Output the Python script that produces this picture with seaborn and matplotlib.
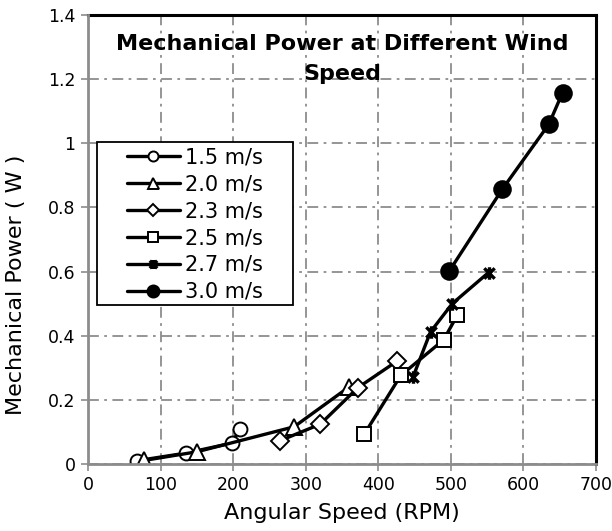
#!/usr/bin/env python3

import numpy as np
import pandas as pd
import matplotlib
matplotlib.use("Agg")
import matplotlib.pyplot as plt
from matplotlib.path import Path
from matplotlib.patches import Rectangle
from matplotlib.ticker import FuncFormatter, MultipleLocator
import seaborn as sns

# -----------------------------------------------------------------------------
# Data
# -----------------------------------------------------------------------------

labels = ["1.5 m/s", "2.0 m/s", "2.3 m/s", "2.5 m/s", "2.7 m/s", "3.0 m/s"]

rpm_15 = [67, 135, 198, 209]
pw_15 = [0.010, 0.034, 0.065, 0.108]

rpm_20 = [77, 150, 284, 359]
pw_20 = [0.011, 0.038, 0.116, 0.239]

rpm_23 = [265, 320, 372, 426]
pw_23 = [0.073, 0.124, 0.238, 0.321]

rpm_25 = [381, 431, 490, 509]
pw_25 = [0.094, 0.276, 0.387, 0.464]

rpm_27 = [448, 472, 502, 552]
pw_27 = [0.272, 0.412, 0.500, 0.597]

rpm_30 = [498, 571, 635, 654]
pw_30 = [0.602, 0.857, 1.059, 1.158]

rpms = [rpm_15, rpm_20, rpm_23, rpm_25, rpm_27, rpm_30]
powers = [pw_15, pw_20, pw_23, pw_25, pw_27, pw_30]

df = pd.concat(
    [pd.DataFrame({"rpm": r, "power": p, "speed": lab}) for r, p, lab in zip(rpms, powers, labels)],
    ignore_index=True,
)

# -----------------------------------------------------------------------------
# Style
# -----------------------------------------------------------------------------

sns.set_theme(style="white")
plt.rcParams["font.family"] = ["DejaVu Sans"]
plt.rcParams["text.color"] = "black"
plt.rcParams["axes.labelcolor"] = "black"

# Excel-like "star" marker: an X with a vertical bar
star = Path(
    [(-1, -1), (1, 1), (-1, 1), (1, -1), (0, -1.2), (0, 1.2)],
    [Path.MOVETO, Path.LINETO, Path.MOVETO, Path.LINETO, Path.MOVETO, Path.LINETO],
)

marker_styles = {
    "1.5 m/s": dict(marker="o", markersize=10, markerfacecolor="white"),
    "2.0 m/s": dict(marker="^", markersize=11, markerfacecolor="white"),
    "2.3 m/s": dict(marker="D", markersize=9, markerfacecolor="white"),
    "2.5 m/s": dict(marker="s", markersize=10, markerfacecolor="white"),
    "2.7 m/s": dict(marker=star, markersize=9, markerfacecolor="none", markeredgewidth=2.4),
    "3.0 m/s": dict(marker="o", markersize=12, markerfacecolor="black"),
}

fig = plt.figure(figsize=(6.12, 5.31), dpi=100)
ax = fig.add_axes([0.1438, 0.1262, 0.830, 0.8456])

for lab in labels:
    sub = df[df["speed"] == lab]
    style = dict(markeredgecolor="black", markeredgewidth=1.4)
    style.update(marker_styles[lab])
    sns.lineplot(
        data=sub, x="rpm", y="power", ax=ax, sort=False, estimator=None,
        color="black", linewidth=2.4, label=lab, **style
    )

# -----------------------------------------------------------------------------
# Axes, grid, spines
# -----------------------------------------------------------------------------

ax.set_xlim(0, 700)
ax.set_ylim(0, 1.4)
ax.xaxis.set_major_locator(MultipleLocator(100))
ax.yaxis.set_major_locator(MultipleLocator(0.2))
ax.yaxis.set_major_formatter(FuncFormatter(lambda v, _: f"{v:g}"))

ax.grid(True, color="#8c8c8c", linestyle=(0, (6, 3, 1.5, 3)), linewidth=1.3)
ax.set_axisbelow(True)

for side in ["top", "right"]:
    ax.spines[side].set_color("black")
    ax.spines[side].set_linewidth(2.2)
for side in ["left", "bottom"]:
    ax.spines[side].set_color("#8c8c8c")
    ax.spines[side].set_linewidth(2.0)
    ax.spines[side].set_zorder(5)

ax.tick_params(axis="both", which="major", direction="out", length=5, width=1.2,
               color="#8c8c8c", labelsize=12.5, labelcolor="black", pad=4,
               bottom=True, left=True)

ax.set_xlabel("Angular Speed (RPM)", fontsize=16, labelpad=6)
ax.set_ylabel("Mechanical Power ( W )", fontsize=16)
ax.yaxis.set_label_coords(-0.122, 0.40)

# chart title sits inside the plot area, two lines
ax.text(0.5, 0.922, "Mechanical Power at Different Wind", transform=ax.transAxes,
        ha="center", va="baseline", fontsize=16, fontweight="bold")
ax.text(0.5, 0.855, "Speed", transform=ax.transAxes,
        ha="center", va="baseline", fontsize=16, fontweight="bold")

# legend box (white, black border) with the entries centred in it
ax.add_patch(Rectangle((0.0177, 0.354), 0.386, 0.363, transform=ax.transAxes,
                       facecolor="white", edgecolor="black", linewidth=1.3,
                       zorder=4, clip_on=False))
leg = ax.legend(loc="center", bbox_to_anchor=(0.2106, 0.533), fontsize=15,
                frameon=False, handlelength=2.55, handletextpad=0.25,
                labelspacing=0.33, borderpad=0, markerscale=0.72)
leg.set_zorder(6)

plt.savefig("out.png", dpi=100)
plt.close()
